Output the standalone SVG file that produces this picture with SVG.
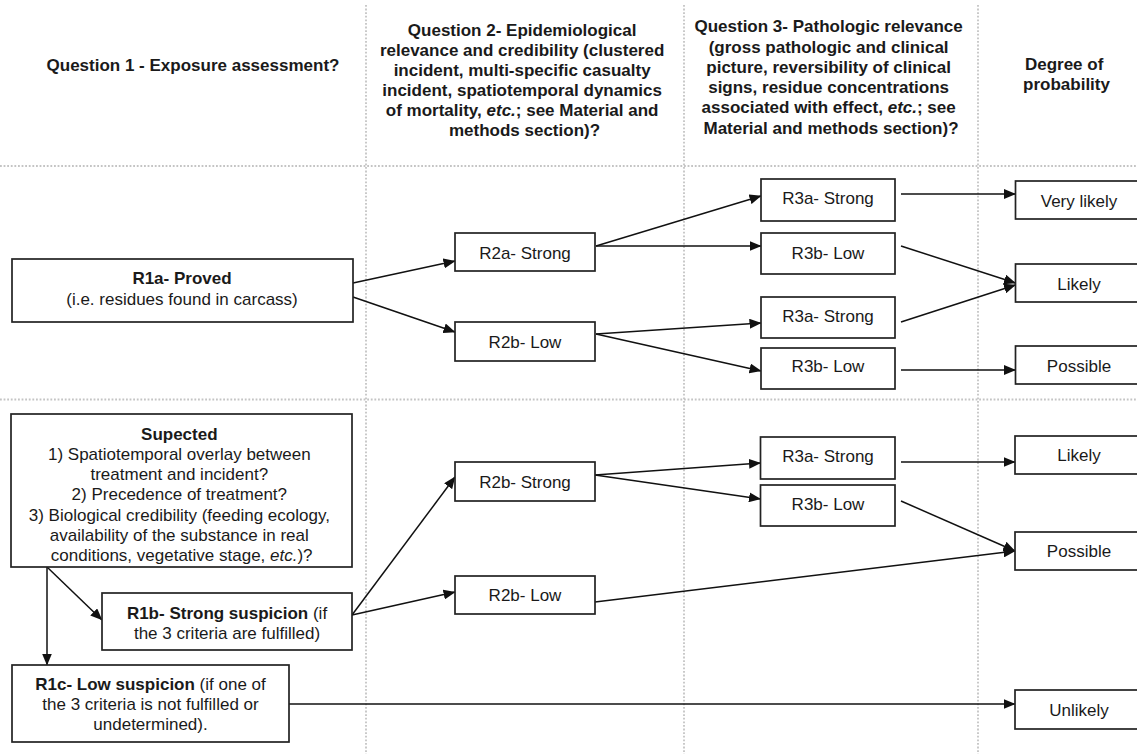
<svg xmlns="http://www.w3.org/2000/svg" width="1137" height="754" viewBox="0 0 1137 754">
<defs>
<marker id="ah" markerUnits="userSpaceOnUse" markerWidth="12" markerHeight="10" refX="11.5" refY="5" orient="auto">
<path d="M0,0 L12,5 L0,10 z" fill="#111"/>
</marker>
<style>
.grid{stroke:#c4c4c4;stroke-width:1.8;stroke-dasharray:1.8 1.8;fill:none}
.box{fill:#fff;stroke:#222;stroke-width:1.7}
.hd{font-family:"Liberation Sans",Arial,sans-serif;font-size:17px;font-weight:bold;fill:#1a1a1a;text-anchor:middle}
.t{font-family:"Liberation Sans",Arial,sans-serif;font-size:17px;fill:#1a1a1a;text-anchor:middle}
.b{font-weight:bold}
.i{font-style:italic}
.c line{stroke:#111;stroke-width:1.5;marker-end:url(#ah)}
</style>
</defs>
<rect width="1137" height="754" fill="#fff"/>
<g id="grid">
<line class="grid" x1="0" y1="166" x2="1137" y2="166"/>
<line class="grid" x1="0" y1="399.5" x2="1137" y2="399.5"/>
<line class="grid" x1="366" y1="5" x2="366" y2="754"/>
<line class="grid" x1="684" y1="5" x2="684" y2="754"/>
<line class="grid" x1="978" y1="5" x2="978" y2="754"/>
</g>
<g id="headers">
<text class="hd" x="193" y="71">Question 1 - Exposure assessment?</text>
<text class="hd" x="524.5">
<tspan x="524.5" y="36">Question 2- Epidemiological</tspan>
<tspan x="524.5" y="56">relevance and credibility (clustered</tspan>
<tspan x="524.5" y="76">incident, multi-specific casualty</tspan>
<tspan x="524.5" y="96">incident, spatiotemporal dynamics</tspan>
<tspan x="524.5" y="116">of mortality, <tspan class="i">etc.</tspan>; see Material and</tspan>
<tspan x="524.5" y="136">methods section)?</tspan>
</text>
<text class="hd">
<tspan x="831" y="32">Question 3- Pathologic relevance</tspan>
<tspan x="831" y="52.5">(gross pathologic and clinical</tspan>
<tspan x="831" y="72.5">picture, reversibility of clinical</tspan>
<tspan x="831" y="92.5">signs, residue concentrations</tspan>
<tspan x="831" y="113">associated with effect, <tspan class="i">etc.</tspan>; see</tspan>
<tspan x="831" y="133.5">Material and methods section)?</tspan>
</text>
<text class="hd">
<tspan x="1066.5" y="70">Degree of</tspan>
<tspan x="1066.5" y="90">probability</tspan>
</text>
</g>
<g class="c" id="connectors">
<line x1="353" y1="283" x2="455" y2="261"/>
<line x1="353" y1="297" x2="455" y2="332"/>
<line x1="596" y1="246" x2="761" y2="196"/>
<line x1="596" y1="246" x2="761" y2="246"/>
<line x1="596" y1="334" x2="761" y2="323"/>
<line x1="596" y1="334" x2="761" y2="371"/>
<line x1="901" y1="194" x2="1015.5" y2="194"/>
<line x1="901" y1="246" x2="1015.5" y2="283"/>
<line x1="901" y1="322" x2="1015.5" y2="285"/>
<line x1="901" y1="370" x2="1015.5" y2="370"/>
<line x1="47" y1="567" x2="47" y2="665"/>
<line x1="47" y1="567" x2="102" y2="620"/>
<line x1="352" y1="615" x2="455" y2="477"/>
<line x1="352" y1="615" x2="455" y2="592"/>
<line x1="595" y1="475" x2="760.5" y2="463"/>
<line x1="595" y1="475" x2="760.5" y2="499"/>
<line x1="901" y1="462" x2="1015" y2="462"/>
<line x1="901" y1="501" x2="1015" y2="551"/>
<line x1="595" y1="602" x2="1015" y2="551"/>
<line x1="289" y1="704" x2="1015" y2="704"/>
</g>
<g id="r1a">
<rect class="box" x="12" y="259" width="341" height="63"/>
<text class="t"><tspan class="b" x="182" y="284">R1a- Proved</tspan><tspan x="182" y="305">(i.e. residues found in carcass)</tspan></text>
</g>
<g id="r2a-top"><rect class="box" x="455" y="233" width="140" height="38"/><text class="t" x="525" y="259">R2a- Strong</text></g>
<g id="r2b-top"><rect class="box" x="455" y="322" width="140" height="39"/><text class="t" x="525" y="348">R2b- Low</text></g>
<g id="r3a-1"><rect class="box" x="761" y="179" width="134" height="42"/><text class="t" x="828" y="204">R3a- Strong</text></g>
<g id="r3b-1"><rect class="box" x="761" y="233" width="134" height="41"/><text class="t" x="828" y="258.5">R3b- Low</text></g>
<g id="r3a-2"><rect class="box" x="761" y="297" width="134" height="41"/><text class="t" x="828" y="322">R3a- Strong</text></g>
<g id="r3b-2"><rect class="box" x="761" y="348" width="134" height="41"/><text class="t" x="828" y="372">R3b- Low</text></g>
<g id="very-likely"><rect class="box" x="1015.5" y="181" width="127" height="38"/><text class="t" x="1079" y="206.5">Very likely</text></g>
<g id="likely-1"><rect class="box" x="1015.5" y="264" width="127" height="38"/><text class="t" x="1079" y="290">Likely</text></g>
<g id="possible-1"><rect class="box" x="1015.5" y="346" width="127" height="38"/><text class="t" x="1079" y="371.5">Possible</text></g>
<g id="suspected">
<rect class="box" x="11" y="414" width="341" height="153"/>
<text class="t">
<tspan class="b" x="181.7" y="439.5">Supected</tspan>
<tspan x="181.7" y="459.75">1) Spatiotemporal overlay between</tspan>
<tspan x="181.7" y="480">treatment and incident?</tspan>
<tspan x="181.7" y="500.25">2) Precedence of treatment?</tspan>
<tspan x="181.7" y="520.5">3) Biological credibility (feeding ecology,</tspan>
<tspan x="181.7" y="540.75">availability of the substance in real</tspan>
<tspan x="181.7" y="561">conditions, vegetative stage, <tspan class="i">etc.</tspan>)?</tspan>
</text>
</g>
<g id="r1b">
<rect class="box" x="102" y="593" width="250" height="57"/>
<text class="t"><tspan x="227" y="619"><tspan class="b">R1b- Strong suspicion</tspan> (if</tspan><tspan x="227" y="639">the 3 criteria are fulfilled)</tspan></text>
</g>
<g id="r1c">
<rect class="box" x="12" y="665" width="277" height="77"/>
<text class="t"><tspan x="150.5" y="689.5"><tspan class="b">R1c- Low suspicion</tspan> (if one of</tspan><tspan x="150.5" y="710">the 3 criteria is not fulfilled or</tspan><tspan x="150.5" y="730">undetermined).</tspan></text>
</g>
<g id="r2b-strong"><rect class="box" x="455" y="462" width="140" height="39"/><text class="t" x="525" y="488">R2b- Strong</text></g>
<g id="r2b-low"><rect class="box" x="455" y="576" width="140" height="38"/><text class="t" x="525" y="600.5">R2b- Low</text></g>
<g id="r3a-3"><rect class="box" x="760.5" y="437" width="134.5" height="42"/><text class="t" x="828" y="462">R3a- Strong</text></g>
<g id="r3b-3"><rect class="box" x="760.5" y="485" width="134.5" height="41"/><text class="t" x="828" y="510">R3b- Low</text></g>
<g id="likely-2"><rect class="box" x="1015" y="436" width="127" height="38"/><text class="t" x="1079" y="461">Likely</text></g>
<g id="possible-2"><rect class="box" x="1015" y="532" width="127" height="38"/><text class="t" x="1079" y="557">Possible</text></g>
<g id="unlikely"><rect class="box" x="1015" y="690" width="127" height="39"/><text class="t" x="1079" y="716">Unlikely</text></g>
</svg>
